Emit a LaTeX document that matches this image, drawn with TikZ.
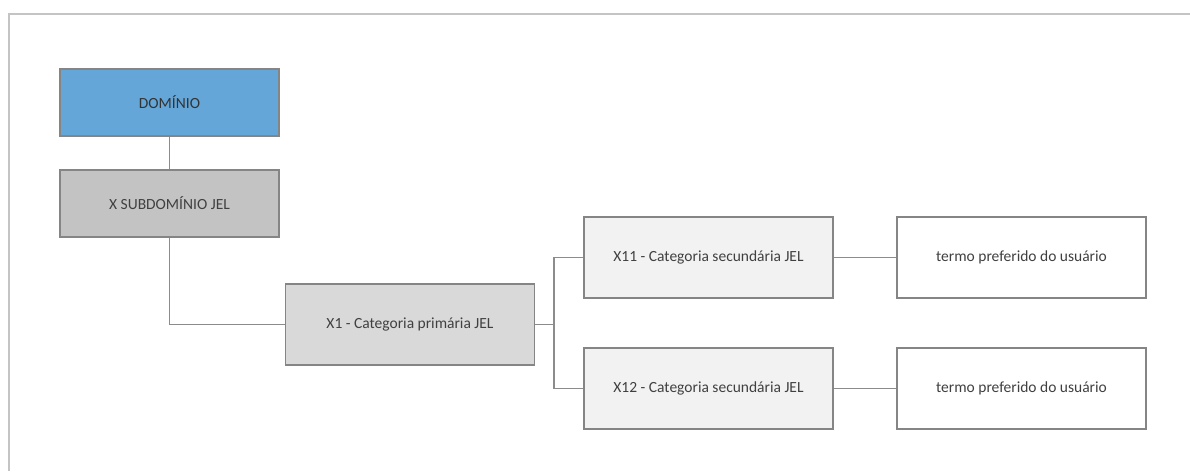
\documentclass[tikz,border=0pt]{standalone}
\usepackage{fontspec}
\setmainfont{Carlito}
\begin{document}
\begin{tikzpicture}[x=1pt,y=-1pt,
  box/.style={draw=boxline, line width=1.2pt, rectangle, inner sep=0pt, text=txt,
    font=\fontsize{15.5}{17}\selectfont},
  small/.style={box, minimum width=219pt, minimum height=67pt},
  big/.style={box, minimum width=249pt, minimum height=81pt},
  link/.style={draw=linec, line width=1.2pt}]
\definecolor{boxline}{HTML}{858585}
\definecolor{linec}{HTML}{8C8C8C}
\definecolor{txt}{HTML}{404040}
\definecolor{blue1}{HTML}{64A6D8}
\definecolor{gray1}{HTML}{C3C3C3}
\definecolor{gray2}{HTML}{D9D9D9}
\definecolor{gray3}{HTML}{F2F2F2}
\definecolor{frame}{HTML}{C4C4C4}
\useasboundingbox (0,0) rectangle (1190,471);
\fill[white] (0,0) rectangle (1190,471);
\draw[frame, line width=2pt] (9,471) -- (9,14) -- (1190,14);

\node[small, fill=blue1, text=black!80] (dom) at (169.5,102.5) {DOMÍNIO};
\node[small, fill=gray1] (sub) at (169.5,203.5) {X SUBDOMÍNIO JEL};
\node[big, fill=gray2] (x1) at (410,324.5) {X1 - Categoria primária JEL};
\node[big, fill=gray3] (x11) at (708.5,257.5) {X11 - Categoria secundária JEL};
\node[big, fill=gray3] (x12) at (708.5,388.5) {X12 - Categoria secundária JEL};
\node[big, fill=white] (t1) at (1021.5,257.5) {termo preferido do usuário};
\node[big, fill=white] (t2) at (1021.5,388.5) {termo preferido do usuário};
\coordinate (j) at (554,324.5);

\draw[link] (dom.south) -- (sub.north);
\draw[link] (sub.south) |- (x1.west);
\draw[link] (x1.east) -- (j);
\draw[link] (j) |- (x11.west);
\draw[link] (j) |- (x12.west);
\draw[link] (x11.east) -- (t1.west);
\draw[link] (x12.east) -- (t2.west);
\end{tikzpicture}
\end{document}
